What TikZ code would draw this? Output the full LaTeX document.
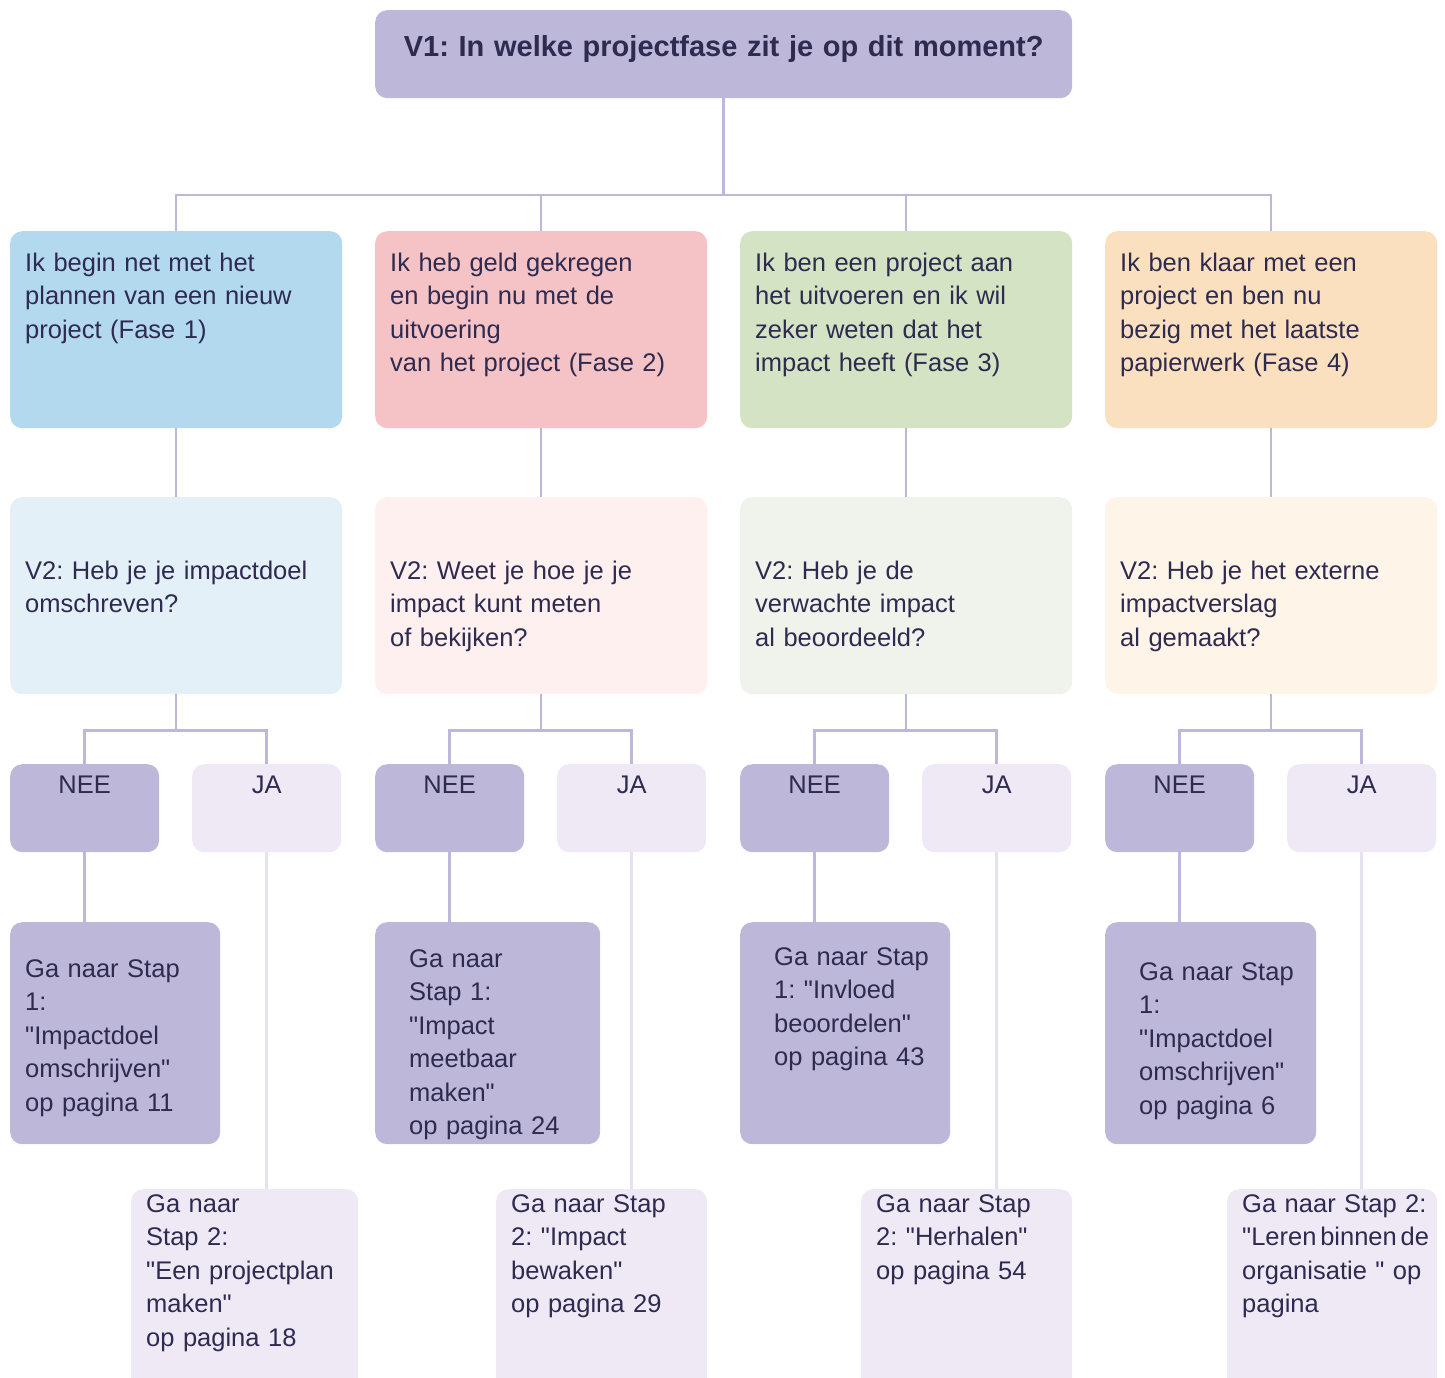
\documentclass[tikz,border=0pt]{standalone}
\usepackage{fontspec}
\newfontfamily\diagfont{Liberation Sans}
\frenchspacing

\definecolor{ink}{HTML}{2E2A50}
\definecolor{lila}{HTML}{BDB8D9}
\definecolor{lilapale}{HTML}{EEE9F5}
\definecolor{lilaline}{HTML}{E6E1F0}
\definecolor{fase1}{HTML}{B3D9EE}
\definecolor{fase2}{HTML}{F5C3C5}
\definecolor{fase3}{HTML}{D3E3C3}
\definecolor{fase4}{HTML}{FAE0BF}
\definecolor{vraag1}{HTML}{E4F0F8}
\definecolor{vraag2}{HTML}{FDF0EF}
\definecolor{vraag3}{HTML}{F0F3EB}
\definecolor{vraag4}{HTML}{FEF4E8}

\newcommand{\bodyfont}{\diagfont\fontsize{25.5}{33.5}\selectfont}
\newcommand{\titlefont}{\diagfont\fontsize{29}{35}\selectfont\bfseries}

\tikzset{
  card/.style={anchor=north west, rounded corners=12pt, inner sep=0pt,
    align=left, text=ink, font=\bodyfont},
  leftpad/.style={execute at begin node={\leftskip=#1\relax}},
  fasebox/.style={card, text width=332pt, leftpad=15pt, text height=40pt, text depth=157pt},
  vraagbox/.style={card, text width=332pt, leftpad=15pt, text height=82pt, text depth=115pt},
  keuzebox/.style={card, align=center, text width=149pt, text height=29pt, text depth=59pt},
  stap1box/.style={card, fill=lila, text depth=222pt-#1},
  stap2box/.style={card, fill=lilapale, leftpad=15pt, text height=23pt, text depth=230pt},
  link/.style={draw=lila, line width=2.5pt},
  linkpale/.style={draw=lilaline, line width=2.5pt},
}

\begin{document}
\begin{tikzpicture}[x=1pt,y=-1pt]
  \useasboundingbox (0,0) rectangle (1445,1377);
  \clip (0,0) rectangle (1445,1377);

  % vraag 1
  \node[card, fill=lila, align=center, font=\titlefont, text width=697pt,
    text height=46pt, text depth=42pt] (v1) at (375,10)
    {V1: In welke projectfase zit je op dit moment?};

  % fases
  \node[fasebox, fill=fase1] (p1) at (10,231)
    {Ik begin net met het\\plannen van een nieuw\\project (Fase 1)};
  \node[fasebox, fill=fase2] (p2) at (375,231)
    {Ik heb geld gekregen\\en begin nu met de\\uitvoering\\van het project (Fase 2)};
  \node[fasebox, fill=fase3] (p3) at (740,231)
    {Ik ben een project aan\\het uitvoeren en ik wil\\zeker weten dat het\\impact heeft (Fase 3)};
  \node[fasebox, fill=fase4] (p4) at (1105,231)
    {Ik ben klaar met een\\project en ben nu\\bezig met het laatste\\papierwerk (Fase 4)};

  % vraag 2
  \node[vraagbox, fill=vraag1] (q1) at (10,497)
    {V2: Heb je je impactdoel\\omschreven?};
  \node[vraagbox, fill=vraag2] (q2) at (375,497)
    {V2: Weet je hoe je je\\impact kunt meten\\of bekijken?};
  \node[vraagbox, fill=vraag3] (q3) at (740,497)
    {V2: Heb je de\\verwachte impact\\al beoordeeld?};
  \node[vraagbox, fill=vraag4] (q4) at (1105,497)
    {V2: Heb je het externe\\impactverslag\\al gemaakt?};

  % nee / ja
  \foreach \i in {1,...,4}
  {\node[keuzebox, fill=lila] (nee\i) at ({10+365*(\i-1)},764) {NEE};
   \node[keuzebox, fill=lilapale] (ja\i) at ({192+365*(\i-1)},764) {JA};}

  % stap 1
  \node[stap1box=55pt, text width=210pt, leftpad=15pt, text height=55pt] (s1) at (10,922)
    {Ga naar Stap\\1:\\"Impactdoel\\omschrijven"\\op pagina 11};
  \node[stap1box=45pt, text width=225pt, leftpad=34pt, text height=45pt] (s2) at (375,922)
    {Ga naar\\Stap 1:\\"Impact\\meetbaar\\maken"\\op pagina 24};
  \node[stap1box=43pt, text width=210pt, leftpad=34pt, text height=43pt] (s3) at (740,922)
    {Ga naar Stap\\1: "Invloed\\beoordelen"\\op pagina 43};
  \node[stap1box=58pt, text width=211pt, leftpad=34pt, text height=58pt] (s4) at (1105,922)
    {Ga naar Stap\\1:\\"Impactdoel\\omschrijven"\\op pagina 6};

  % stap 2
  \node[stap2box, text width=227pt] (t1) at (131,1189)
    {Ga naar\\Stap 2:\\"Een projectplan\\maken"\\op pagina 18};
  \node[stap2box, text width=211pt] (t2) at (496,1189)
    {Ga naar Stap\\2: "Impact\\bewaken"\\op pagina 29};
  \node[stap2box, text width=211pt] (t3) at (861,1189)
    {Ga naar Stap\\2: "Herhalen"\\op pagina 54};
  \node[stap2box, text width=210pt] (t4) at (1227,1189)
    {Ga naar Stap 2:\\\mbox{\spaceskip=0.15em "Leren binnen de}\\organisatie " op\\pagina};

  % verbindingen
  \coordinate (bus) at (0,195);
  \foreach \i in {1,...,4}
  {\draw[link] (v1.south) -- (v1.south |- bus) -| (p\i.north);
   \draw[link] (p\i.south) -- (q\i.north);
   \draw[link] (q\i.south) -- ++(0,36) coordinate (j\i) -| (nee\i.north);
   \draw[link] (j\i) -| (ja\i.north);
   \draw[link] (nee\i.south) -- (nee\i.south |- s\i.north);
   \draw[linkpale] (ja\i.south) -- (ja\i.south |- t\i.north);}
\end{tikzpicture}
\end{document}
